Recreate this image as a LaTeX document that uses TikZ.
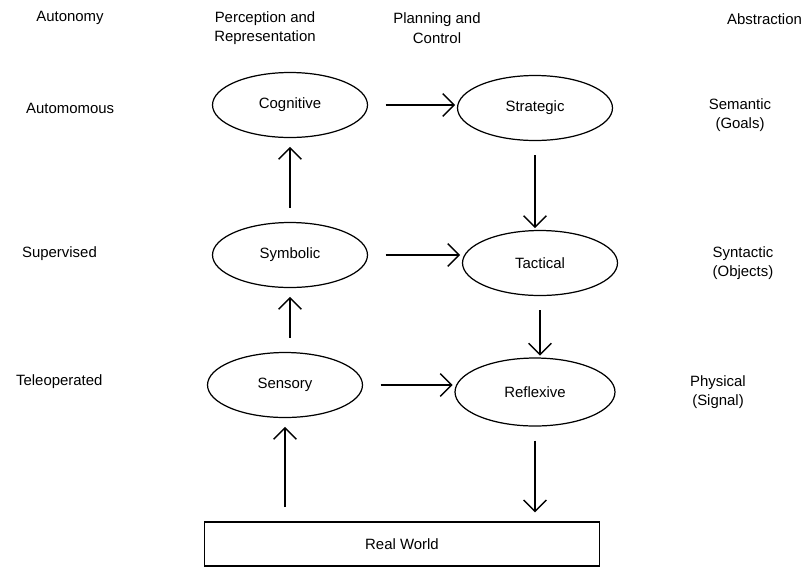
\documentclass[tikz,border=0pt]{standalone}
\usepackage{fontspec}
\setmainfont{Liberation Sans}
\usetikzlibrary{positioning,arrows.meta,shapes.geometric}
\begin{document}
\begin{tikzpicture}[
  x=0.02cm, y=-0.02cm,
  font=\fontsize{8.5}{11}\selectfont, >={Straight Barb[length=6.5pt,width=13pt]},
  lvl/.style={draw, ellipse, line width=0.7pt, minimum width=3.1cm, minimum height=1.3cm},
  lbl/.style={align=center, inner sep=1pt},
  world/.style={draw, line width=0.9pt, minimum width=7.9cm, minimum height=0.88cm},
  arr/.style={->, line width=0.8pt, shorten <=8pt, shorten >=5pt},
  harr/.style={->, line width=0.8pt, shorten <=10pt, shorten >=1pt},
]
\useasboundingbox (0,0) rectangle (804,572);
\node[lbl] (hauto) at (70,18)  {Autonomy};
\node[lbl] (hperc) at (265,28) {Perception and\\Representation};
\node[lbl] (hplan) at (437,28) {Planning and\\Control};
\node[lbl, anchor=east] (habs) at (804,19) {Abstraction};

\node[lbl, anchor=west] (auto) at (24,108)  {Automomous};
\node[lbl, anchor=west] (sup)  at (20,254)  {Supervised};
\node[lbl, anchor=west] (tele) at (14,382)  {Teleoperated};

\node[lbl] (sem) at (740,115) {Semantic\\(Goals)};
\node[lbl] (syn) at (743,263) {Syntactic\\(Objects)};
\node[lbl] (phy) at (718,392) {Physical\\(Signal)};

\node[lvl] (cog) at (290,105) {Cognitive};
\node[lvl] (str) at (535,108) {Strategic};
\node[lvl] (sym) at (290,255) {Symbolic};
\node[lvl] (tac) at (540,263) {Tactical};
\node[lvl] (sen) at (285,385) {Sensory};
\node[lvl, minimum width=3.2cm, minimum height=1.36cm] (ref) at (535,392) {Reflexive};
\node[world] (rw) at (402,544) {Real World};

\draw[harr] (cog) -- (cog -| str.west);
\draw[harr] (sym) -- (sym -| tac.west);
\draw[harr] (sen) -- (sen -| ref.west);
\draw[arr] (sym) -- (cog);
\draw[arr] (sen.north -| sym) -- (sym);
\draw[arr] (rw.north -| sen) -- (sen);
\draw[arr, shorten >=1pt] (str) -- (str |- tac.north);
\draw[arr, shorten >=1pt] (tac) -- (tac |- ref.north);
\draw[arr] (ref) -- (ref |- rw.north);
\end{tikzpicture}
\end{document}
